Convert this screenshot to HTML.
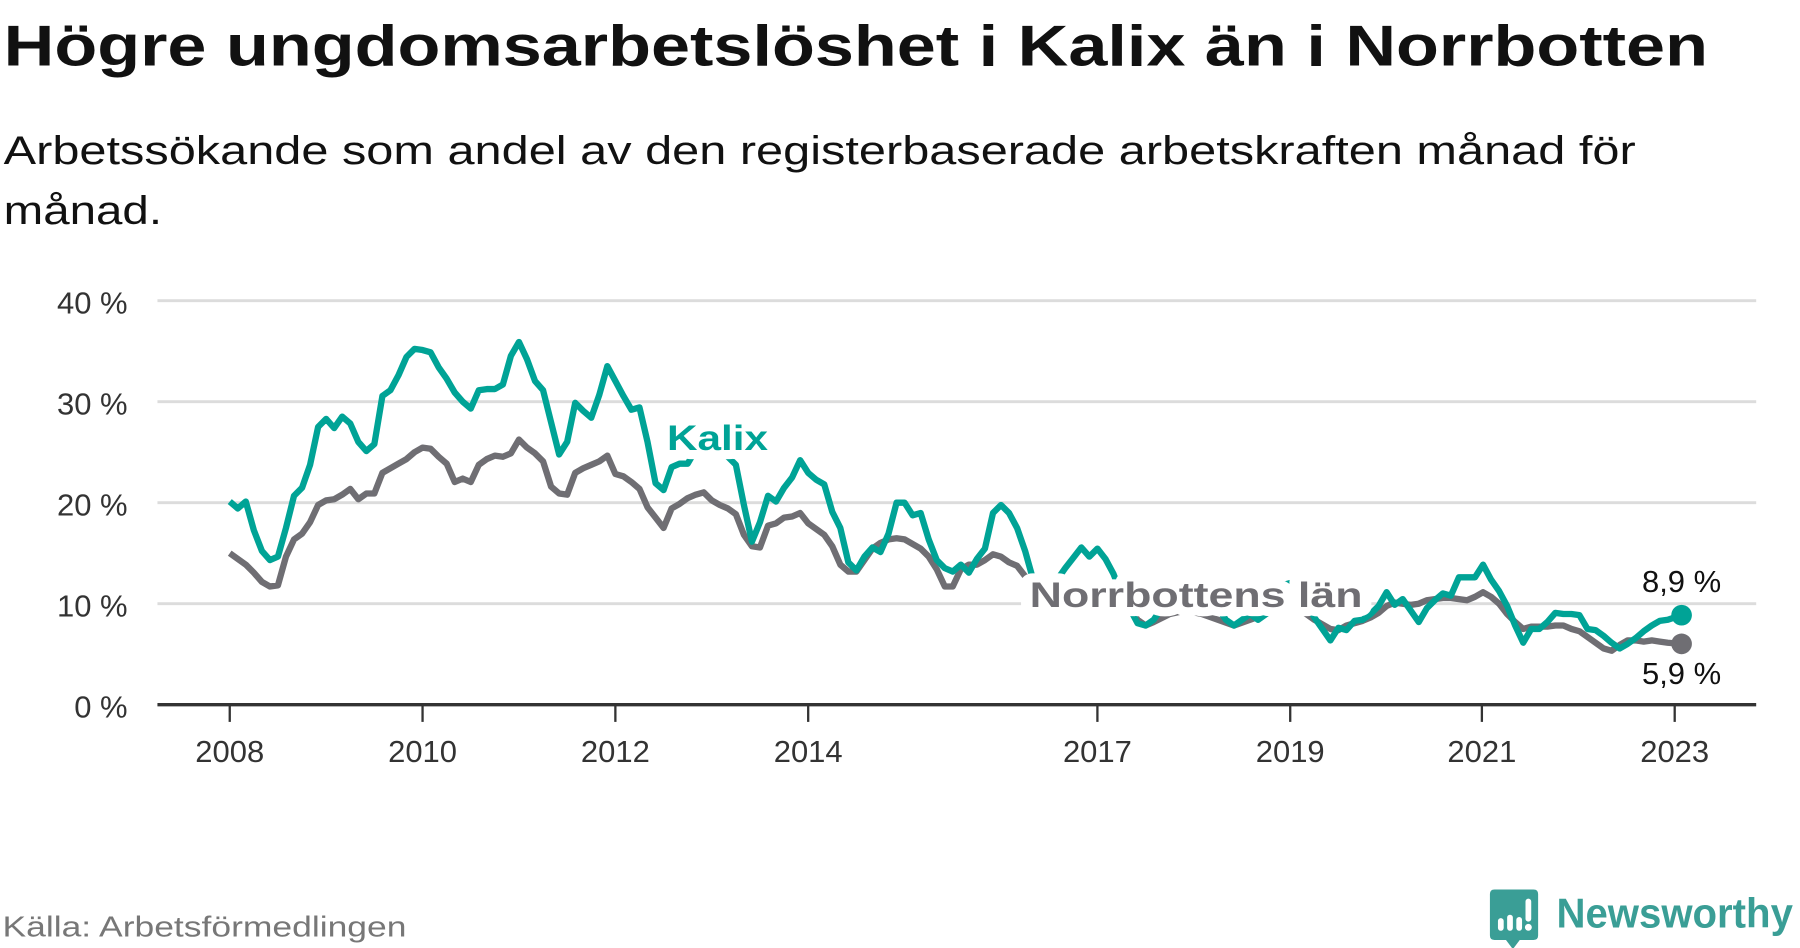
<!DOCTYPE html>
<html><head><meta charset="utf-8"><style>html,body{margin:0;padding:0;background:#fff;overflow:hidden}svg{display:block}</style></head>
<body>
<svg width="1800" height="948" viewBox="0 0 1568 826" xmlns="http://www.w3.org/2000/svg" font-family="Liberation Sans, sans-serif">
<text x="3" y="57" font-size="50" font-weight="bold" fill="#111" textLength="1485" lengthAdjust="spacingAndGlyphs">Högre ungdomsarbetslöshet i Kalix än i Norrbotten</text>
<text x="3" y="143" font-size="35" fill="#111" textLength="1422" lengthAdjust="spacingAndGlyphs">Arbetssökande som andel av den registerbaserade arbetskraften månad för</text>
<text x="3" y="195" font-size="35" fill="#111" textLength="138" lengthAdjust="spacingAndGlyphs">månad.</text>
<g stroke="#dcdcdc" stroke-width="2.5">
<line x1="137" y1="262" x2="1530" y2="262"/><line x1="137" y1="350" x2="1530" y2="350"/><line x1="137" y1="438" x2="1530" y2="438"/><line x1="137" y1="526" x2="1530" y2="526"/>
</g>
<g font-size="27" fill="#333" text-anchor="end">
<text x="111" y="273">40 %</text><text x="111" y="361">30 %</text><text x="111" y="449">20 %</text><text x="111" y="537">10 %</text><text x="111" y="625">0 %</text>
</g>
<line x1="137" y1="614" x2="1530" y2="614" stroke="#333" stroke-width="3"/>
<g stroke="#333" stroke-width="2">
<line x1="200" y1="614" x2="200" y2="629"/><line x1="368" y1="614" x2="368" y2="629"/><line x1="536" y1="614" x2="536" y2="629"/><line x1="704" y1="614" x2="704" y2="629"/><line x1="956" y1="614" x2="956" y2="629"/><line x1="1124" y1="614" x2="1124" y2="629"/><line x1="1291" y1="614" x2="1291" y2="629"/><line x1="1459" y1="614" x2="1459" y2="629"/>
</g>
<g font-size="27" fill="#333" text-anchor="middle">
<text x="200" y="664">2008</text><text x="368" y="664">2010</text><text x="536" y="664">2012</text><text x="704" y="664">2014</text><text x="956" y="664">2017</text><text x="1124" y="664">2019</text><text x="1291" y="664">2021</text><text x="1459" y="664">2023</text>
</g>
<polyline fill="none" stroke="#6f6e73" stroke-width="5.5" stroke-linejoin="round" points="200,482 207,487 214,492 221,499 228,507 235,511 242,510 249,485 256,470 263,465 270,455 277,440 284,436 291,435 298,431 305,426 312,435 319,430 326,430 333,412 340,408 347,404 354,400 361,394 368,390 375,391 382,398 389,404 396,420 403,417 410,420 417,405 424,400 431,397 438,398 445,395 452,383 459,390 466,395 473,402 480,424 487,430 494,431 501,412 508,408 515,405 522,402 529,397 536,413 543,415 550,420 557,426 564,442 571,451 578,460 585,443 592,439 599,434 606,431 613,429 620,436 627,440 634,443 641,448 648,466 655,476 662,477 669,458 676,456 683,451 690,450 697,447 704,456 711,461 718,466 725,476 732,492 739,498 746,498 753,488 760,478 767,473 774,470 781,469 788,470 795,474 802,478 809,485 816,496 823,511 830,511 837,496 844,492 851,492 858,488 865,483 872,485 879,490 886,493 893,502 900,505 907,508 921,510 935,512 949,513 963,515 977,520 991,540 998,545 1005,542 1019,535 1033,532 1047,535 1061,540 1075,545 1089,540 1103,535 1117,528 1131,530 1145,540 1159,548 1166,549 1173,545 1180,543 1187,541 1194,538 1201,534 1208,528 1215,525 1222,526 1229,527 1236,526 1243,523 1250,522 1257,521 1264,521 1271,522 1278,523 1285,520 1292,516 1299,520 1306,526 1313,535 1320,542 1327,548 1334,546 1341,546 1348,546 1355,545 1362,545 1369,548 1376,550 1383,555 1390,560 1397,565 1404,567 1411,562 1418,558 1425,558 1432,559 1439,558 1446,559 1453,560 1465,561"/>
<polyline fill="none" stroke="#00a396" stroke-width="5.5" stroke-linejoin="round" points="200,437 207,443 214,437 221,462 228,480 235,488 242,485 249,460 256,432 263,425 270,405 277,372 284,365 291,373 298,363 305,369 312,385 319,393 326,387 333,345 340,340 347,327 354,311 361,304 368,305 375,307 382,320 389,330 396,342 403,350 410,356 417,340 424,339 431,339 438,335 445,310 452,298 459,313 466,332 473,340 480,368 487,396 494,385 501,351 508,358 515,364 522,344 529,319 536,332 543,345 550,357 557,355 564,385 571,421 578,427 585,407 592,404 599,404 606,392 613,385 620,388 627,392 634,398 641,405 648,440 655,472 662,455 669,432 676,437 683,425 690,416 697,401 704,412 711,418 718,422 725,446 732,460 739,490 746,497 753,485 760,477 767,481 774,465 781,438 788,438 795,449 802,447 809,470 816,488 823,495 830,498 837,492 844,499 851,487 858,478 865,447 872,440 879,447 886,460 893,480 900,505 907,512 914,510 921,505 928,495 935,486 942,477 949,485 956,478 963,487 970,500 977,518 984,530 991,543 998,545 1005,540 1012,530 1019,522 1026,515 1033,512 1040,514 1047,518 1054,520 1061,530 1068,540 1075,545 1082,540 1089,535 1096,540 1103,535 1110,520 1117,510 1124,508 1131,515 1138,525 1145,538 1152,548 1159,558 1166,547 1173,549 1180,541 1187,540 1194,535 1201,528 1208,516 1215,527 1222,522 1229,532 1236,542 1243,530 1250,523 1257,517 1264,519 1271,503 1278,503 1285,503 1292,492 1299,505 1306,515 1313,528 1320,545 1327,560 1334,548 1341,548 1348,542 1355,534 1362,535 1369,535 1376,536 1383,548 1390,549 1397,554 1404,560 1411,565 1418,561 1425,556 1432,550 1439,545 1446,541 1453,540 1465,536"/>
<circle cx="1465" cy="561" r="9" fill="#6f6e73"/>
<circle cx="1465" cy="536" r="9" fill="#00a396"/>
<g font-weight="bold" font-size="31" stroke="#fff" stroke-width="16" stroke-linejoin="round" paint-order="stroke">
<text x="581" y="392" fill="#00a396" textLength="88" lengthAdjust="spacingAndGlyphs">Kalix</text>
<text x="897" y="529" fill="#6f6e73" textLength="290" lengthAdjust="spacingAndGlyphs">Norrbottens län</text>
</g>
<text x="1465" y="516" font-size="27" fill="#111" text-anchor="middle">8,9 %</text>
<text x="1465" y="596" font-size="27" fill="#111" text-anchor="middle">5,9 %</text>
<text x="2" y="816" font-size="25" fill="#777" textLength="352" lengthAdjust="spacingAndGlyphs">Källa: Arbetsförmedlingen</text>
<g transform="translate(1298,775)">
<path d="M4,0 H38 Q42,0 42,4 V40 Q42,44 38,44 H26 L20,52 L14,44 H4 Q0,44 0,40 V4 Q0,0 4,0Z" fill="#3a9e96"/>
<rect x="7" y="25" width="5" height="11" rx="2.5" fill="#fff"/>
<rect x="15" y="22" width="5" height="14" rx="2.5" fill="#fff"/>
<rect x="23" y="24" width="5" height="12" rx="2.5" fill="#fff"/>
<rect x="31" y="8" width="5" height="20" rx="2.5" fill="#fff"/>
<circle cx="33.5" cy="33" r="3" fill="#fff"/>
</g>
<text x="1356" y="808" font-size="36" font-weight="bold" fill="#3a9e96" textLength="206" lengthAdjust="spacingAndGlyphs">Newsworthy</text>
</svg>
</body></html>
